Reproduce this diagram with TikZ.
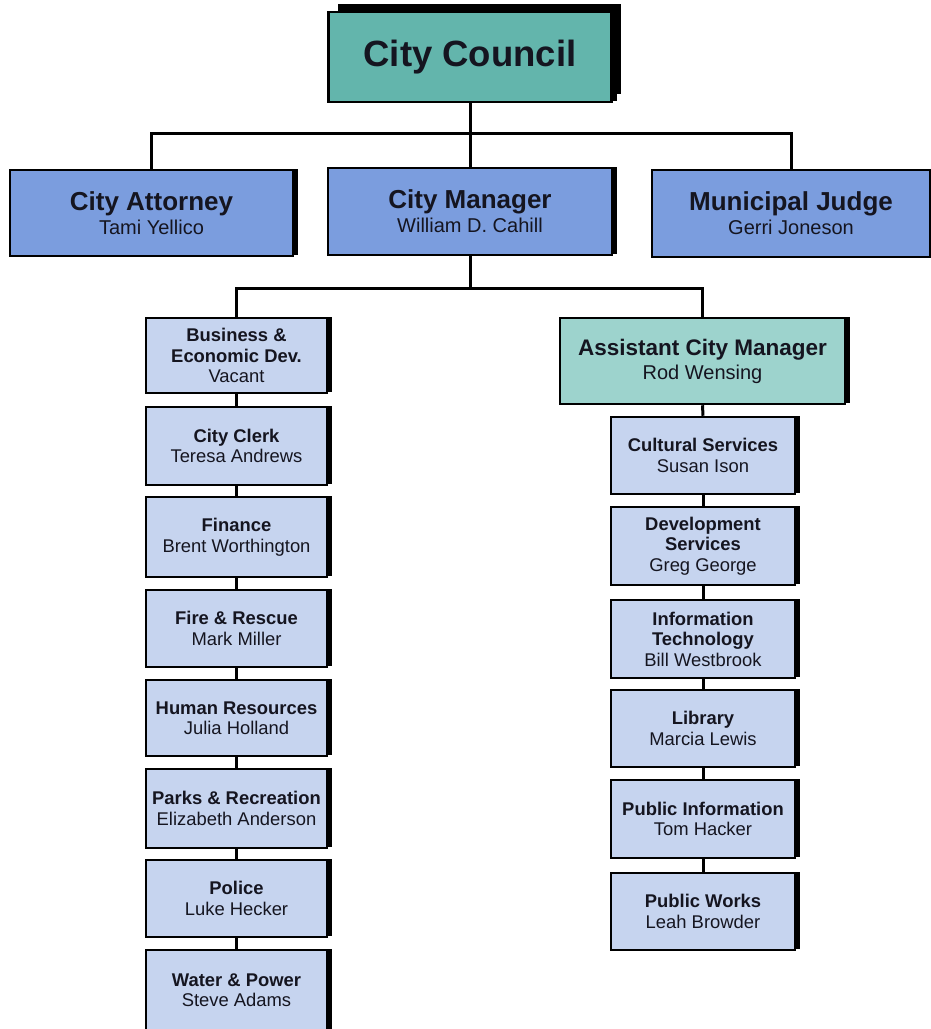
\documentclass[tikz,border=0pt]{standalone}
\usepackage{fontspec}
\setmainfont{Liberation Sans}
\usetikzlibrary{shadows}
\definecolor{councilc}{HTML}{63B5AC}
\definecolor{topc}{HTML}{7B9DDE}
\definecolor{acmc}{HTML}{9DD3CD}
\definecolor{deptc}{HTML}{C6D4EF}
\definecolor{txtc}{HTML}{151520}
\tikzset{
  boxbase/.style={draw=black, line width=2.5pt, inner sep=0pt, align=center, text=txtc,
    drop shadow={shadow xshift=5pt, shadow yshift=1.5pt, fill=black, opacity=1}},
  councilbox/.style={boxbase, fill=councilc, minimum width=283pt, minimum height=90pt,
    font=\bfseries\fontsize{36.5}{40}\selectfont,
    drop shadow={shadow xshift=9pt, shadow yshift=8pt, fill=black, opacity=1}},
  topbox/.style={boxbase, fill=topc, minimum width=283pt, minimum height=86pt,
    font=\fontsize{20}{24}\selectfont},
  acmbox/.style={boxbase, fill=acmc, minimum width=285pt, minimum height=86pt,
    font=\fontsize{20}{24}\selectfont},
  deptbox/.style={boxbase, fill=deptc, minimum height=77pt,
    font=\fontsize{18.4}{20.5}\selectfont},
  leftbox/.style={deptbox, minimum width=181pt},
  rightbox/.style={deptbox, minimum width=184pt},
  conn/.style={draw=black, line width=3pt},
}
\newcommand{\toptxt}[2]{{\bfseries\fontsize{26}{24}\selectfont #1}\\#2}
\newcommand{\acmtxt}[2]{{\bfseries\fontsize{22.5}{24}\selectfont #1}\\#2}
\newcommand{\dtwo}[2]{\textbf{#1}\\#2}
\newcommand{\dthree}[3]{\textbf{#1}\\\textbf{#2}\\#3}
\begin{document}
\begin{tikzpicture}[x=1pt,y=-1pt]
\useasboundingbox[fill=white] (0,0) rectangle (931,1029);
\clip (0,0) rectangle (931,1029);
\coordinate (bus1) at (470,133);
\coordinate (bus2) at (470,288);
% nodes
\node[councilbox] (council) at (470,57) {City Council};
\node[topbox] (attorney) at (151.5,213) {\toptxt{City Attorney}{Tami Yellico}};
\node[topbox, minimum width=284pt, minimum height=87pt] (manager) at (470,211.5) {\toptxt{City Manager}{William D. Cahill}};
\node[topbox, minimum width=278pt, minimum height=87pt] (judge) at (791,213.5) {\toptxt{Municipal Judge}{Gerri Joneson}};
\node[leftbox, minimum height=75pt] (b1) at (236.5,355.5) {\dthree{Business \&}{Economic Dev.}{Vacant}};
\node[leftbox, minimum height=78pt] (b2) at (236.5,446) {\dtwo{City Clerk}{Teresa Andrews}};
\node[leftbox, minimum height=80pt] (b3) at (236.5,537) {\dtwo{Finance}{Brent Worthington}};
\node[leftbox] (b4) at (236.5,628.5) {\dtwo{Fire \& Rescue}{Mark Miller}};
\node[leftbox, minimum height=76pt] (b5) at (236.5,718) {\dtwo{Human Resources}{Julia Holland}};
\node[leftbox, minimum height=79pt] (b6) at (236.5,808.5) {\dtwo{Parks \& Recreation}{Elizabeth Anderson}};
\node[leftbox] (b7) at (236.5,898.5) {\dtwo{Police}{Luke Hecker}};
\node[leftbox, minimum height=80pt] (b8) at (236.5,990) {\dtwo{Water \& Power}{Steve Adams}};
\node[acmbox] (acm) at (702.5,361) {\acmtxt{Assistant City Manager}{Rod Wensing}};
\node[rightbox] (r1) at (703,455.5) {\dtwo{Cultural Services}{Susan Ison}};
\node[rightbox, minimum height=78pt] (r2) at (703,546) {\dthree{Development}{Services}{Greg George}};
\node[rightbox, minimum height=78pt] (r3) at (703,639) {\dthree{Information}{Technology}{Bill Westbrook}};
\node[rightbox] (r4) at (703,728.5) {\dtwo{Library}{Marcia Lewis}};
\node[rightbox, minimum height=78pt] (r5) at (703,819) {\dtwo{Public Information}{Tom Hacker}};
\node[rightbox] (r6) at (703,911.5) {\dtwo{Public Works}{Leah Browder}};
% connectors
\draw[conn] (council.south) -- (manager.north);
\draw[conn] (attorney.north) |- (bus1) -| (judge.north);
\draw[conn] (manager.south) -- (bus2);
\draw[conn] (b1.north) |- (bus2) -| (acm.north);
\foreach \a/\b in {b1/b2,b2/b3,b3/b4,b4/b5,b5/b6,b6/b7,b7/b8,acm/r1,r1/r2,r2/r3,r3/r4,r4/r5,r5/r6}
  \draw[conn] (\a.south) -- (\b.north);
\end{tikzpicture}
\end{document}
